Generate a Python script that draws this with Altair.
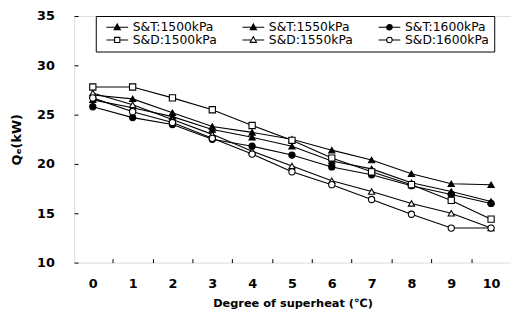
import altair as alt
import pandas as pd

superheat = list(range(11))
series_names = ["S&T:1500kPa", "S&T:1550kPa", "S&T:1600kPa",
                "S&D:1500kPa", "S&D:1550kPa", "S&D:1600kPa"]
st_1500 = [27.0, 26.6, 25.2, 23.8, 23.2, 22.5, 21.4, 20.4, 19.0, 18.0, 17.9]
st_1550 = [26.5, 25.7, 24.8, 23.5, 22.7, 21.8, 20.3, 19.5, 18.1, 17.2, 16.2]
st_1600 = [25.8, 24.7, 24.0, 22.5, 21.8, 20.9, 19.7, 18.9, 17.8, 16.9, 16.0]
sd_1500 = [27.8, 27.8, 26.7, 25.5, 23.9, 22.4, 20.6, 19.2, 17.9, 16.3, 14.4]
sd_1550 = [27.2, 26.0, 24.5, 23.0, 21.3, 19.8, 18.3, 17.2, 16.0, 15.0, 13.5]
sd_1600 = [26.7, 25.3, 24.2, 22.6, 21.0, 19.2, 17.9, 16.4, 14.9, 13.5, 13.5]
y_ticks = [10, 15, 20, 25, 30, 35]

rows = []
for name, vals in zip(series_names, [st_1500, st_1550, st_1600, sd_1500, sd_1550, sd_1600]):
    for x, v in zip(superheat, vals):
        rows.append({"x": x, "q": v, "series": name})
df = pd.DataFrame(rows)

plot_shapes = ["triangle-up", "triangle-up", "circle", "square", "triangle-up", "circle"]
fills = ["black", "black", "black", "white", "white", "white"]
strokes = ["black"] * 6

# legend symbols: line with marker centred at x=3 (units of 3.5px)
full_line = "M-0.15,0H6.15"
tri = "M3,-0.95L3.9,0.7L2.1,0.7Z"
circ = "M2.2,0A0.8,0.8,0,1,1,3.8,0A0.8,0.8,0,1,1,2.2,0Z"
legend_paths = [
    full_line + tri,
    full_line + tri,
    full_line + circ,
    "M-0.15,0H2.25M3.75,0H6.15M2.25,-0.75H3.75V0.75H2.25Z",
    "M-0.15,0H2.5M3.5,0H6.15" + tri,
    "M-0.15,0H2.2M3.8,0H6.15" + circ,
]

FONT = "DejaVu Sans"
x_axis_vals = [i * 0.5 for i in range(-1, 22)]

x_enc = alt.X("x:Q",
              scale=alt.Scale(domain=[-0.47, 10.5], nice=False, zero=False),
              axis=alt.Axis(values=x_axis_vals, offset=-4, tickSize=4, domain=False, grid=False,
                            labelExpr="datum.value % 1 == 0 ? datum.value : ''",
                            tickOpacity={"condition": {"test": "datum.value % 1 == 0", "value": 0}, "value": 1},
                            labelOverlap=False, labelPadding=15, labelFont=FONT, labelFontSize=13,
                            labelFontWeight="bold", labelColor="black", tickColor="black",
                            title="Degree of superheat (\u2103)", titleFont=FONT, titleFontSize=11.5,
                            titleFontWeight="bold", titleColor="black", titlePadding=8))
y_enc = alt.Y("q:Q",
              scale=alt.Scale(domain=[10, 35], nice=False, zero=False),
              axis=alt.Axis(values=y_ticks, offset=-4, tickSize=4, domain=False, grid=False,
                            labelPadding=20, labelFont=FONT, labelFontSize=13, labelFontWeight="bold",
                            labelColor="black", tickColor="black",
                            title="Q\u2091(kW)", titleFont=FONT, titleFontSize=13, titleFontWeight="bold",
                            titleColor="black", titlePadding=13))

base = alt.Chart(df)

lines = base.mark_line(color="black", strokeWidth=1.1).encode(
    x=x_enc, y=y_enc, detail="series:N")

points = base.mark_point(stroke="black", strokeWidth=1.1, opacity=1, size=40).encode(
    x=x_enc, y=y_enc,
    shape=alt.Shape("series:N", scale=alt.Scale(domain=series_names, range=plot_shapes), legend=None),
    fill=alt.Fill("series:N", scale=alt.Scale(domain=series_names, range=fills), legend=None),
)

legend_layer = base.mark_point(strokeWidth=1.1, opacity=0, size=49).encode(
    x=x_enc, y=y_enc,
    shape=alt.Shape("series:N", scale=alt.Scale(domain=series_names, range=legend_paths),
                    legend=alt.Legend(title=None, orient="none", direction="horizontal",
                                      legendX=22, legendY=0, columns=3,
                                      columnPadding=20, rowPadding=-3, labelOffset=20,
                                      labelFont=FONT, labelFontSize=12.5,
                                      labelColor="black", symbolStrokeWidth=1.1,
                                      symbolSize=49, symbolOpacity=1,
                                      strokeColor="black", padding=5, fillColor="white")),
    fill=alt.Fill("series:N", scale=alt.Scale(domain=series_names, range=fills)),
    stroke=alt.Stroke("series:N", scale=alt.Scale(domain=series_names, range=strokes)),
)

chart = alt.layer(lines, legend_layer, points).resolve_scale(
    shape="independent", fill="independent", stroke="independent"
).properties(
    width=443, height=250,
    autosize=alt.AutoSizeParams(type="none"),
    padding={"left": 67, "top": 6, "right": 0, "bottom": 50},
).configure_view(stroke="black", strokeWidth=1.5).configure(background="white")

chart.save("out.html", embed_options={"renderer": "svg", "actions": False})
